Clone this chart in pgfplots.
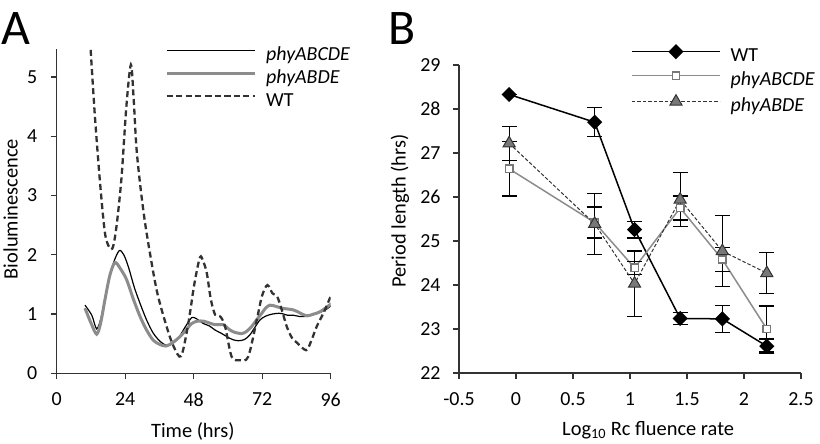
\documentclass[border=0pt]{standalone}
\usepackage{fontspec}
\setmainfont{Carlito}
\usepackage{pgfplots}
\pgfplotsset{compat=1.18}
\definecolor{gr}{RGB}{140,140,140}
\definecolor{dk}{RGB}{50,50,50}
\definecolor{mg}{RGB}{120,120,120}
\newcommand{\fs}{\fontsize{20}{24}\selectfont}
\newcommand{\fl}{\fontsize{20.5}{24}\selectfont}
\pgfplotsset{
  common/.style={
    scale only axis,
    axis x line*=bottom, axis y line*=left,
    axis line style={line width=1.3bp, color=black!80, -},
    tick align=outside,
    major tick length=6bp,
    tick style={line width=1.3bp, color=black!80},
    ticklabel style={font=\fs},
    /pgf/number format/assume math mode=true,
    legend style={draw=none, fill=none, font=\fs, inner sep=0pt,
      nodes={inner sep=1bp, text height=14bp, text depth=4bp},
      row sep=4bp, legend cell align=left,
      /tikz/every odd column/.append style={column sep=9bp}},
    legend image code/.code={\draw[mark repeat=2,mark phase=2,##1] plot coordinates {(0bp,5bp) (44bp,5bp) (88bp,5bp)};},
  },
  eb/.style={error bars/.cd, y dir=both, y explicit,
    error bar style={line width=1.3bp, solid, black},
    error mark options={rotate=90, mark size=7.5bp, line width=1.3bp, black, solid}},
}
\begin{document}
\begin{tikzpicture}
\begin{axis}[common,
  at={(56.7bp,70.7bp)}, anchor=south west,
  width=274bp, height=324bp,
  xmin=0, xmax=96, ymin=0, ymax=5.47,
  xtick={0,24,48,72,96}, ytick={0,1,2,3,4,5},
  xticklabel style={yshift=-10bp}, yticklabel style={xshift=-10bp},
  xlabel={Time (hrs)}, ylabel={Bioluminescence},
  every axis x label/.style={at={(axis description cs:0.497,-0.181)}, anchor=center, font=\fl},
  every axis y label/.style={at={(axis description cs:-0.168,0.507)}, rotate=90, anchor=center, font=\fl},
  legend style={at={(axis description cs:0.395,1.013)}, anchor=north west, row sep=3bp},
]
\addplot[black, line width=1.2bp, smooth] coordinates {
(9.9,1.15) (12.3,0.98) (14.0,0.75) (15.6,0.95) (17.5,1.41) (19.8,1.85) (21.9,2.07) (23.5,2.0) (25.1,1.80) (27.2,1.45) (29.2,1.18) (31.5,0.9) (33.8,0.68) (36.2,0.54) (38.5,0.47) (40.5,0.5) (42.6,0.59) (45.0,0.78) (47.3,0.94) (49.0,0.92) (51.4,0.84) (53.5,0.80) (55.5,0.73) (57.5,0.68) (59.6,0.62) (61.6,0.57) (63.6,0.55) (65.8,0.57) (67.7,0.65) (69.5,0.78) (71.2,0.90) (73.0,0.96) (74.7,0.99) (76.8,1.01) (78.8,1.01) (80.9,0.98) (82.9,0.98) (85.0,0.96) (87.0,0.96) (89.0,0.98) (91.1,1.01) (93.8,1.06) (96.4,1.15)};
\addlegendentry{\textit{phyABCDE}}
\addplot[gr, line width=3bp, smooth] coordinates {
(9.9,1.10) (12.0,0.85) (14.0,0.66) (15.4,0.85) (16.9,1.24) (18.6,1.65) (20.4,1.87) (22.4,1.76) (24.5,1.58) (26.8,1.26) (29.2,0.96) (31.5,0.73) (33.8,0.56) (36.0,0.49) (38.3,0.46) (40.7,0.52) (43.2,0.62) (45.3,0.73) (47.3,0.84) (49.3,0.88) (51.4,0.88) (53.5,0.85) (55.5,0.82) (58.4,0.82) (60.2,0.75) (61.9,0.70) (64.8,0.67) (66.6,0.71) (68.3,0.79) (70.0,0.90) (71.8,1.01) (73.2,1.10) (74.7,1.15) (76.8,1.13) (78.8,1.10) (82.9,1.07) (85.2,1.02) (87.6,0.97) (90.0,1.0) (92.3,1.04) (96.4,1.18)};
\addlegendentry{\textit{phyABDE}}
\addplot[dk, line width=2.3bp, dash pattern=on 6bp off 3.6bp, smooth] coordinates {
(11.9,5.46) (13.4,4.33) (15.2,3.21) (16.9,2.37) (18.5,2.12) (19.7,2.13) (21.0,2.5) (22.7,3.3) (24.4,4.5) (26.0,5.21) (27.0,4.6) (28.0,3.77) (29.7,3.0) (31.5,2.37) (35.0,1.41) (38.5,0.79) (41.0,0.45) (43.6,0.29) (46.1,0.84) (48.2,1.5) (50.2,1.96) (51.4,1.88) (52.6,1.69) (54.0,1.25) (55.5,0.99) (57.3,0.96) (59.0,0.79) (61.3,0.28) (64.2,0.22) (67.1,0.28) (70.1,0.90) (71.9,1.3) (73.8,1.49) (75.6,1.35) (77.3,1.29) (79.0,1.05) (80.6,0.79) (82.4,0.6) (84.1,0.52) (87.4,0.39) (89.2,0.55) (91.1,0.79) (93.8,1.05) (96.4,1.35)};
\addlegendentry{WT}
\end{axis}
\begin{axis}[common,
  at={(459bp,71bp)}, anchor=south west,
  width=342bp, height=308bp,
  xmin=-0.5, xmax=2.5, ymin=22, ymax=29,
  xtick={-0.5,0,0.5,1,1.5,2,2.5}, xticklabels={-0.5,0,0.5,1,1.5,2,2.5},
  ytick={22,23,24,25,26,27,28,29},
  xticklabel style={yshift=-10bp}, yticklabel style={xshift=-9bp},
  xlabel={Log\textsubscript{10} Rc fluence rate}, ylabel={Period length (hrs)},
  every axis x label/.style={at={(axis description cs:0.553,-0.185)}, anchor=center, font=\fl},
  every axis y label/.style={at={(axis description cs:-0.1725,0.526)}, rotate=90, anchor=center, font=\fl},
  legend style={at={(axis description cs:0.503,1.065)}, anchor=north west},
]
\addplot[black, line width=1.5bp, mark=square*, mark size=4.6bp, mark options={rotate=45, fill=black, solid}, eb]
  table[x=x, y=y, y error=e] {
x y e
-0.06 28.33 0.0
0.69 27.70 0.33
1.04 25.26 0.19
1.44 23.24 0.14
1.81 23.23 0.31
2.20 22.61 0.16
};
\addlegendentry{WT}
\addplot[gr, line width=1.5bp, mark=square*, mark size=3.7bp, mark options={fill=white, draw=mg, line width=1.5bp, solid}, eb]
  table[x=x, y=y, y error=e] {
x y e
-0.06 26.64 0.62
0.69 25.42 0.35
1.04 24.39 0.15
1.44 25.75 0.27
1.81 24.58 0.27
2.20 23.00 0.52
};
\addlegendentry{\textit{phyABCDE}}
\addplot[dk, line width=1bp, dash pattern=on 3.5bp off 2bp, mark=triangle*, mark size=7bp, mark options={fill=mg, draw=dk, line width=1bp, solid}, eb]
  table[x=x, y=y, y error=e] {
x y e
-0.06 27.22 0.39
0.69 25.39 0.69
1.04 24.03 0.74
1.44 25.94 0.61
1.81 24.77 0.81
2.20 24.27 0.47
};
\addlegendentry{\textit{phyABDE}}
\end{axis}
\node[anchor=base west, inner sep=0pt, font=\fontsize{50}{60}\selectfont] at (1bp,399bp) {A};
\node[anchor=base west, inner sep=0pt, font=\fontsize{50}{60}\selectfont] at (388bp,399bp) {B};
\pgfresetboundingbox
\path (0bp,0bp) rectangle (820bp,444bp);
\end{tikzpicture}
\end{document}
